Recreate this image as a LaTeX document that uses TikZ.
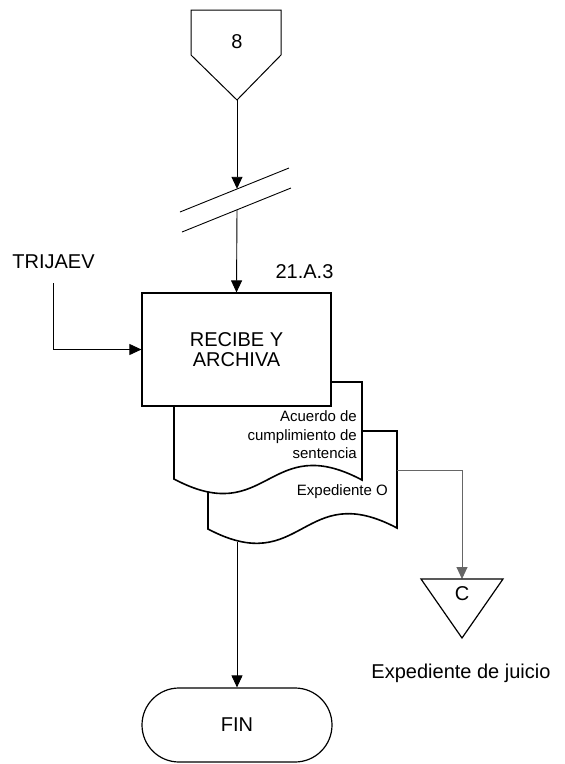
\documentclass[tikz,border=0pt]{standalone}
\usepackage{fontspec}
\setmainfont{Liberation Sans}
\usetikzlibrary{arrows.meta}
\begin{document}
\begin{tikzpicture}[x=1pt,y=-1pt,
  conn/.style={line width=0.9pt,-{Triangle[length=12pt,width=11pt]}},
  thinshape/.style={draw,line width=1pt,fill=white},
  shp/.style={draw,line width=1.2pt,fill=white},
  doc/.style={draw,line width=1.6pt,fill=white,line join=miter},
  lbl/.style={font=\fontsize{20}{19.5}\selectfont,inner sep=0pt},
  small/.style={font=\fontsize{15}{18.5}\selectfont,inner sep=0pt}]
\fill[white] (0,0) rectangle (565,764);
\useasboundingbox (0,0) rectangle (565,764);
% off-page connector 8
\draw[thinshape] (191,10) -- (281,10) -- (281,55) -- (237,100) -- (191,55) -- cycle;
\node[lbl] (n8) at (237,42) {8};
\coordinate (p8) at (237,100);
% break marks
\coordinate (brkA) at (237,188.8);
\coordinate (brkB) at (237,209.7);
\draw[conn] (p8) -- (brkA);
\draw[line width=0.9pt] (180,212) -- (289,168);
\draw[line width=0.9pt] (182,232) -- (291,188);
% documents
\draw[doc] (208,431) -- (397,431) -- (397,528) .. controls (302.5,478) and (302.5,579) .. (208,529) -- cycle;
\draw[doc] (174,382) -- (362,382) -- (362,480) .. controls (268,430) and (268,529) .. (174,479) -- cycle;
\node[small,anchor=east,align=right] (acu) at (357,435) {Acuerdo de\\cumplimiento de\\sentencia};
\node[small,anchor=base east] (exo) at (388,495) {Expediente O};
% process box
\node[shp,lbl,align=center,minimum width=189pt,minimum height=113pt] (box) at (236.5,349.5) {RECIBE Y\\ARCHIVA};
\draw[conn] (brkB) -- (box.north);
\node[lbl,anchor=base] (num) at (304.5,278) {21.A.3};
% TRIJAEV input
\node[lbl,anchor=base] (trij) at (53.5,268) {TRIJAEV};
\coordinate (trijL) at (53,283);
\draw[conn] (trijL) |- (box.west);
% connector C
\coordinate (d2r) at (397,470);
\coordinate (cTop) at (462,579);
\draw[conn,color=black!60] (d2r) -| (cTop);
\draw[shp] (421,579) -- (503,579) -- (462,638) -- cycle;
\node[lbl] (cc) at (462,593.5) {C};
\node[lbl,anchor=base] (expj) at (461,678) {Expediente de juicio};
% FIN
\node[shp,lbl,rounded corners=37pt,minimum width=190pt,minimum height=74pt] (fin) at (237,725) {FIN};
\coordinate (d2b) at (237,542);
\draw[conn] (d2b) -- (fin.north);
\end{tikzpicture}
\end{document}
